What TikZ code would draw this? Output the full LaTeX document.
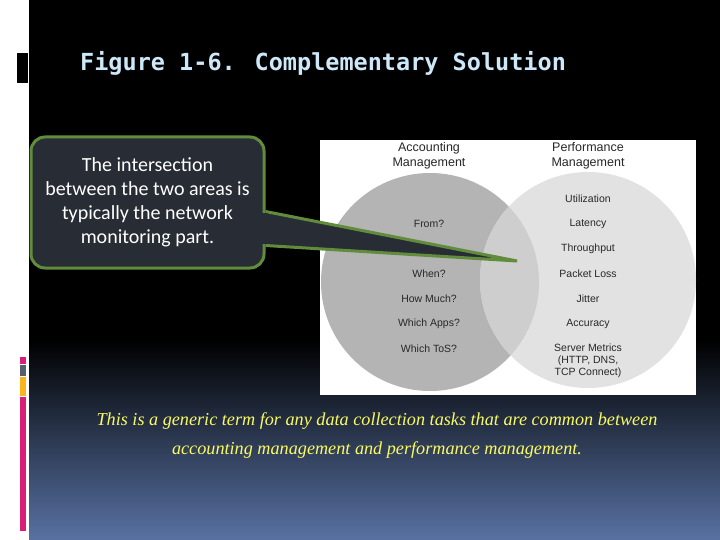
\documentclass[tikz,border=0pt]{standalone}
\usepackage{fontspec}
\setmainfont{Liberation Sans}
\newfontfamily\calfont{Carlito}
\newfontfamily\titlefont{DejaVu Sans Mono}
\newfontfamily\handfont{Liberation Serif}
\usepackage{xcolor}
\definecolor{slidepink}{RGB}{218,30,120}
\definecolor{slidegray}{RGB}{85,95,110}
\definecolor{slideorange}{RGB}{250,180,30}
\definecolor{slideblue}{RGB}{88,114,163}
\definecolor{titleblue}{RGB}{205,232,248}
\definecolor{notefill}{RGB}{40,44,52}
\definecolor{notegreen}{RGB}{96,140,60}
\definecolor{accgray}{RGB}{180,180,180}
\definecolor{perfgray}{RGB}{226,226,226}
\definecolor{bothgray}{RGB}{206,206,206}
\definecolor{venntext}{RGB}{40,40,40}
\definecolor{noteyellow}{RGB}{250,250,100}
\usepackage{tikz}
\usetikzlibrary{positioning,calc}

\begin{document}
\begin{tikzpicture}[x=1pt,y=-1pt,
  head/.style={font=\fontsize{12.5}{15}\selectfont,text=venntext,align=center,inner sep=0pt},
  item/.style={font=\fontsize{10.5}{12}\selectfont,text=venntext,align=center,inner sep=0pt},
  note/.style={draw=notegreen,fill=notefill,rounded corners=14pt,line width=3pt,
    minimum width=233pt,minimum height=131pt,align=center,text=white,
    font=\calfont\fontsize{20}{24}\selectfont}]
\useasboundingbox (0,0) rectangle (720,540);
% slide background
\fill[white] (0,0) rectangle (720,540);
\fill[black] (29,0) rectangle (720,540);
\shade[top color=black,bottom color=slideblue] (29,340) rectangle (720,540);
\fill[black] (17,53) rectangle (28,83);
\fill[slidepink]   (20,357) rectangle (26,364);
\fill[slidegray]   (20,365) rectangle (26,376);
\fill[slideorange] (20,377) rectangle (26,396);
\fill[slidepink]   (20,397) rectangle (26,531);
\node[anchor=west,text=titleblue,font=\titlefont\bfseries\fontsize{23.5}{28}\selectfont,inner sep=0pt]
  (title) at (80,63) {Figure 1-6. Complementary Solution};
% venn figure
\fill[white] (320,140) rectangle (696,395);
\begin{scope}
\clip (320,140) rectangle (696,395);
\fill[accgray]  (430,282) circle (109);
\fill[perfgray] (588,280) circle (108);
\clip (430,282) circle (109);
\fill[bothgray] (588,280) circle (108);
\end{scope}
\node[head] (acc)  at (429,156) {Accounting\\Management};
\node[head] (perf) at (588,156) {Performance\\Management};
\node[item] (from)  at (429,224) {From?};
\node[item] (when)  at (429,274) {When?};
\node[item] (much)  at (429,299) {How Much?};
\node[item] (apps)  at (429,324) {Which Apps?};
\node[item] (tos)   at (429,349) {Which ToS?};
\node[item] (util)  at (588,199) {Utilization};
\node[item] (lat)   at (588,224) {Latency};
\node[item] (thr)   at (588,249) {Throughput};
\node[item] (loss)  at (588,274) {Packet Loss};
\node[item] (jit)   at (588,299) {Jitter};
\node[item] (accu)  at (588,324) {Accuracy};
\node[item] (srv)   at (588,361) {Server Metrics\\(HTTP, DNS,\\TCP Connect)};
% callout
\coordinate (tip) at (517,261);
\node[note] (note) at (147.5,202.5) {The intersection\\between the two areas is\\typically the network\\monitoring part.};
\draw[notegreen,fill=notefill,line width=3pt,line join=miter]
  ([yshift=-9pt]note.east) -- (tip) -- ([yshift=-43pt]note.east);
\fill[notefill] ([xshift=-4.5pt,yshift=-10.5pt]note.east) -- ([xshift=2pt,yshift=-10.5pt]note.east)
  -- ([xshift=2pt,yshift=-41.5pt]note.east) -- ([xshift=-4.5pt,yshift=-41.5pt]note.east) -- cycle;
\node[text=noteyellow,align=center,font=\handfont\itshape\fontsize{18.2}{29}\selectfont]
  (summary) at (377,436) {This is a generic term for any data collection tasks that are common between\\accounting management and performance management.};
\end{tikzpicture}
\end{document}
